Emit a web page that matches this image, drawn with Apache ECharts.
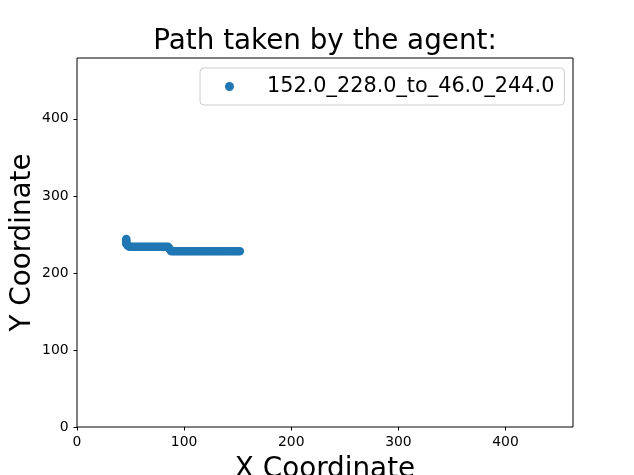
<!DOCTYPE html>
<html>
<head>
<meta charset="utf-8">
<script src="https://cdn.jsdelivr.net/npm/echarts@6/dist/echarts.min.js"></script>
<style>
  html, body { margin: 0; padding: 0; background: #fff; }
  #chart { width: 634px; height: 475px; }
</style>
</head>
<body>
<div id="chart"></div>
<script>
// path of the agent (start 152,228 -> end 46,244)
const pathX = [
  152, 150, 148, 146, 144, 142, 140, 138, 136, 134, 132, 130, 128, 126, 124, 122, 120,
  118, 116, 114, 112, 110, 108, 106, 104, 102, 100, 98, 96, 94, 92, 90, 88,
  87, 86,
  85, 83, 81, 79, 77, 75, 73, 71, 69, 67, 65, 63, 61, 59, 57, 55, 53, 51, 49,
  48, 47, 46, 46, 46, 46
];
const pathY = [
  228, 228, 228, 228, 228, 228, 228, 228, 228, 228, 228, 228, 228, 228, 228, 228, 228,
  228, 228, 228, 228, 228, 228, 228, 228, 228, 228, 228, 228, 228, 228, 228, 228,
  230, 232,
  234, 234, 234, 234, 234, 234, 234, 234, 234, 234, 234, 234, 234, 234, 234, 234, 234, 234, 234,
  235, 236, 238, 240, 242, 244
];
const seriesName = "152.0_228.0_to_46.0_244.0";
const xTicks = [0, 100, 200, 300, 400];
const yTicks = [0, 100, 200, 300, 400];
const xMax = 463;
const yMax = 479;

const font = "DejaVu Sans";
const points = pathX.map((x, i) => [x, pathY[i]]);

const myChart = echarts.init(document.getElementById("chart"));

const option = {
  backgroundColor: "#fff",
  animation: false,
  title: {
    text: "Path taken by the agent:",
    left: 325,
    textAlign: "center",
    top: 28,
    padding: 0,
    textStyle: {
      fontFamily: font,
      fontSize: 27.8,
      fontWeight: "normal",
      color: "#000",
    },
  },
  legend: {
    left: 200,
    top: 68,
    orient: "horizontal",
    padding: [8, 10, 8, 25],
    backgroundColor: "rgba(255,255,255,0.8)",
    borderColor: "#cccccc",
    borderWidth: 1,
    borderRadius: 4,
    icon: "circle",
    itemWidth: 9,
    itemHeight: 9,
    textStyle: {
      fontFamily: font,
      fontSize: 20.8,
      color: "#000",
      lineHeight: 21,
      padding: [0, 0, 0, 28],
    },
    data: [seriesName],
  },
  grid: {
    left: 77,
    top: 58,
    width: 496,
    height: 369,
    outerBoundsMode: "none",
    containLabel: false,
    show: true,
    borderColor: "#000",
    borderWidth: 1,
    backgroundColor: "transparent",
  },
  xAxis: {
    type: "value",
    min: 0,
    max: xMax,
    name: "X Coordinate",
    nameLocation: "middle",
    nameGap: 29,
    nameMoveOverlap: false,
    nameTextStyle: { fontFamily: font, fontSize: 27.8, color: "#000" },
    axisLine: { show: false },
    splitLine: { show: false },
    axisTick: {
      show: true,
      length: 3.5,
      lineStyle: { color: "#000" },
      customValues: xTicks,
    },
    axisLabel: {
      margin: 8.4,
      fontFamily: font,
      fontSize: 13.9,
      color: "#000",
      customValues: xTicks,
    },
  },
  yAxis: {
    type: "value",
    min: 0,
    max: yMax,
    name: "Y Coordinate",
    nameLocation: "middle",
    nameRotate: 90,
    nameGap: 40,
    nameMoveOverlap: false,
    nameTextStyle: { fontFamily: font, fontSize: 27.8, color: "#000" },
    axisLine: { show: false },
    splitLine: { show: false },
    axisTick: {
      show: true,
      length: 3.5,
      lineStyle: { color: "#000" },
      customValues: yTicks,
    },
    axisLabel: {
      margin: 8.4,
      fontFamily: font,
      fontSize: 13.9,
      color: "#000",
      customValues: yTicks,
    },
  },
  series: [
    {
      name: seriesName,
      type: "scatter",
      data: points,
      symbol: "circle",
      symbolSize: 8.5,
      itemStyle: { color: "#1f77b4", opacity: 1 },
      emphasis: { disabled: true },
      silent: true,
    },
  ],
};

myChart.setOption(option);
</script>
</body>
</html>
